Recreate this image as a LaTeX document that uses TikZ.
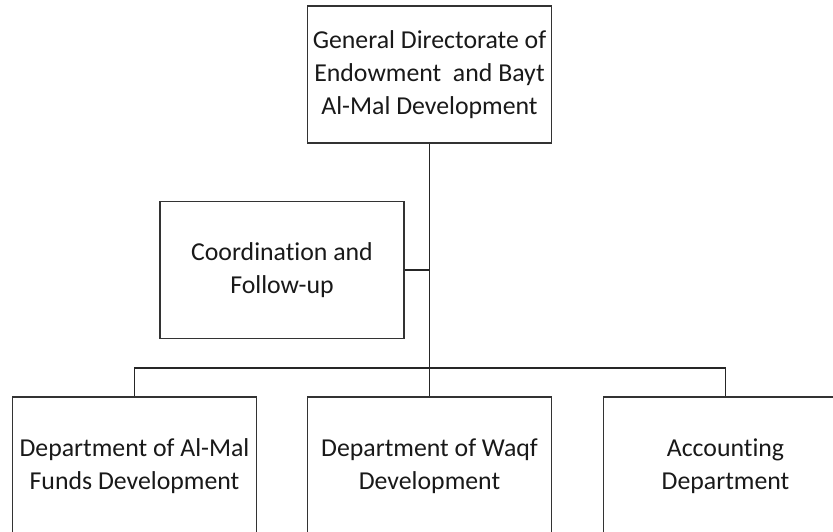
\documentclass[tikz,border=0pt]{standalone}
\usepackage{fontspec}
\setmainfont{Carlito}[Ligatures=NoCommon]
\begin{document}
\begin{tikzpicture}[x=1pt,y=-1pt,
  box/.style={draw=black!80,line width=1.3pt,rectangle,fill=white,
    minimum width=244pt,minimum height=137pt,align=center,inner sep=0pt,
    font=\fontsize{25.8}{33}\selectfont,text=black!90},
  link/.style={draw=black!85,line width=1.3pt}]
\useasboundingbox (0,0) rectangle (833,531);
\clip (0,0) rectangle (833,531);
\fill[white] (0,0) rectangle (833,531);
\node[box] (top) at (429.5,74.5) {\raisebox{-3pt}{\begin{tabular}{@{}c@{}}General Directorate of\\Endowment~ and Bayt\\Al-Mal Development\end{tabular}}};
\node[box] (coord) at (282,270) {Coordination and\\Follow-up};
\node[box,minimum height=138pt] (left) at (134.5,466) {Department of Al-Mal\\Funds Development};
\node[box,minimum height=138pt] (mid) at (429.5,466) {Department of Waqf\\Development};
\node[box,minimum height=138pt] (right) at (725.5,466) {Accounting\\Department};
\coordinate (bus) at (429.5,368);
\draw[link] (top.south) -- (mid.north);
\draw[link] (left.north) |- (bus) -| (right.north);
\draw[link] (coord.east) -- (coord.east -| top.south);
\end{tikzpicture}
\end{document}
